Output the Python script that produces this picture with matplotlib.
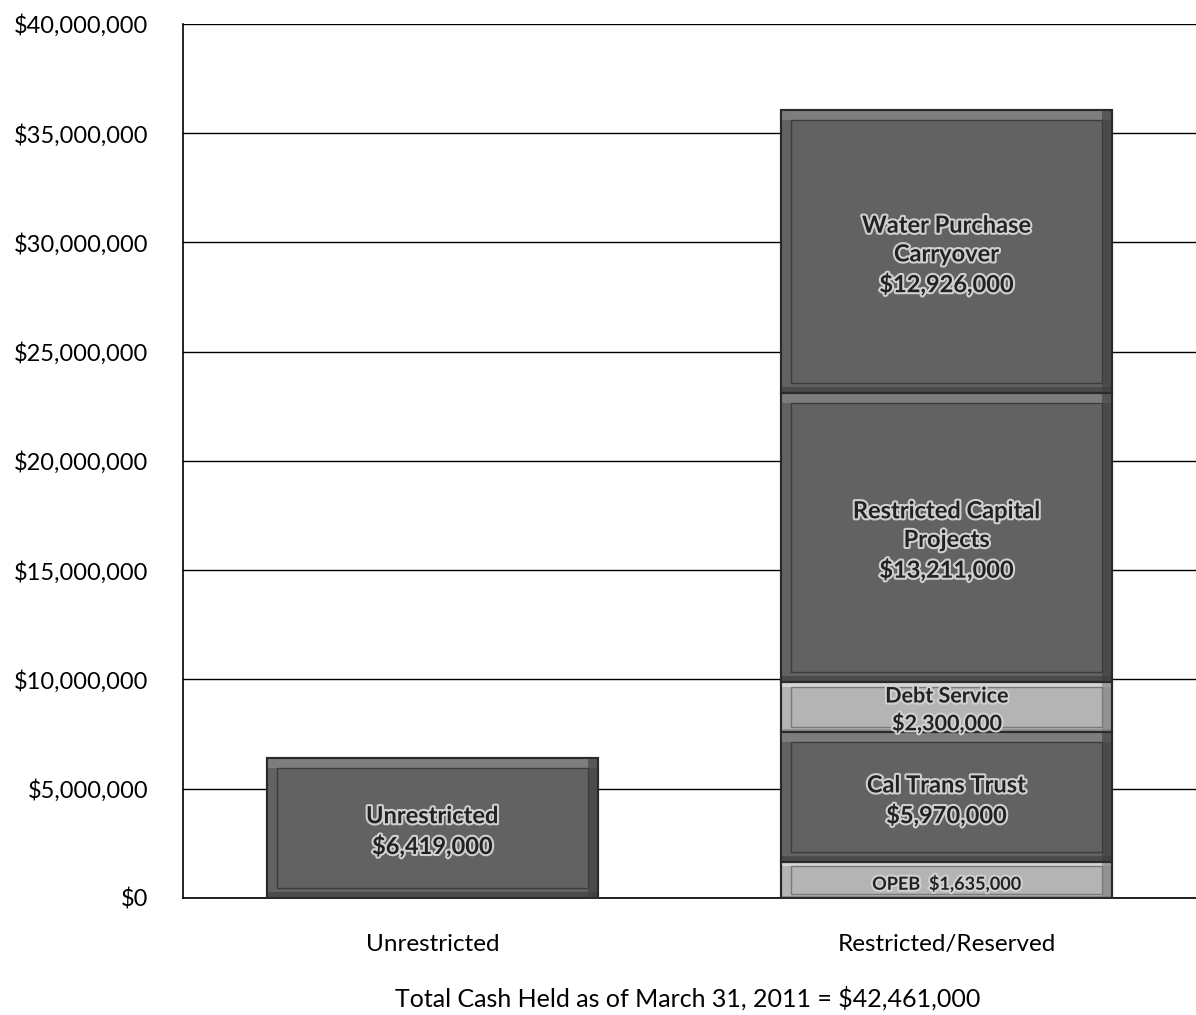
import matplotlib
matplotlib.use("Agg")
import matplotlib.pyplot as plt
import matplotlib.patheffects as pe
from matplotlib.patches import Rectangle
from matplotlib.ticker import FuncFormatter

plt.rcParams['font.family'] = ['Lato', 'DejaVu Sans']

categories = ["Unrestricted", "Restricted/Reserved"]

# Stack segments: (category index, label, value, tone)
seg_category = [0, 1, 1, 1, 1, 1]
seg_labels = ["Unrestricted\n$6,419,000",
              "OPEB  $1,635,000",
              "Cal Trans Trust\n$5,970,000",
              "Debt Service\n$2,300,000",
              "Restricted Capital\nProjects\n$13,211,000",
              "Water Purchase\nCarryover\n$12,926,000"]
seg_values = [6419000, 1635000, 5970000, 2300000, 13211000, 12926000]
seg_tone = ["dark", "light", "dark", "light", "dark", "dark"]
seg_fontsize = [17, 13, 17, 15.5, 17, 17]

yticks = [0, 5e6, 10e6, 15e6, 20e6, 25e6, 30e6, 35e6, 40e6]
title_text = "Total Cash Held as of March 31, 2011 = $42,461,000"

colors = {"dark": "#626262", "light": "#b4b4b4"}
hi = {"dark": "#858585", "light": "#dedede"}
lo = {"dark": "#3c3c3c", "light": "#7a7a7a"}

fig = plt.figure(figsize=(11.96, 10.15), dpi=100)
ax = fig.add_axes([0.153, 0.1153, 0.847, 0.8611])

ax.set_ylim(0, 40e6)
ax.set_xlim(-0.485, 1.485)
ax.set_yticks(yticks)
ax.yaxis.set_major_formatter(FuncFormatter(lambda v, p: "${:,.0f}".format(v)))
ax.grid(axis='y', color='black', linewidth=1.0)
ax.set_axisbelow(True)
for s in ['top', 'right']:
    ax.spines[s].set_visible(False)
ax.spines['left'].set_linewidth(1.2)
ax.spines['bottom'].set_linewidth(1.2)
ax.tick_params(axis='y', length=0, pad=25, labelsize=17)
ax.tick_params(axis='x', length=0, pad=26, labelsize=17.5)
ax.set_xticks([0, 1])
ax.set_xticklabels(categories)

width = 0.644
bottoms = [0.0, 0.0]
for cat, lab, val, tone, fs in zip(seg_category, seg_labels, seg_values,
                                   seg_tone, seg_fontsize):
    b = bottoms[cat]
    bars = ax.bar(cat, val, width=width, bottom=b, color=colors[tone],
                  edgecolor='#2a2a2a', linewidth=1.5, zorder=3)
    p = bars[0]
    x0, y0 = p.get_x(), p.get_y()
    w, h = p.get_width(), p.get_height()
    # bevel: highlight top, shade right/bottom, inner frame
    bx = w * 0.03
    by = min(h * 0.1, 0.45e6)
    ax.add_patch(Rectangle((x0, y0 + h - by), w, by, facecolor=hi[tone],
                           edgecolor='none', zorder=3.5, alpha=0.8))
    ax.add_patch(Rectangle((x0 + w - bx, y0), bx, h, facecolor=lo[tone],
                           edgecolor='none', zorder=3.5, alpha=0.6))
    ax.add_patch(Rectangle((x0, y0), w, by * 0.6, facecolor=lo[tone],
                           edgecolor='none', zorder=3.5, alpha=0.6))
    ax.add_patch(Rectangle((x0 + bx, y0 + by), w - 2 * bx, h - 2 * by,
                           facecolor='none', edgecolor=lo[tone], linewidth=1.0,
                           zorder=3.6))
    ax.add_patch(Rectangle((x0, y0), w, h, facecolor='none',
                           edgecolor='#2a2a2a', linewidth=1.5, zorder=3.7))
    ax.text(cat, b + val / 2 - 0.15e6, lab, ha='center', va='center',
            fontsize=fs, fontweight='bold', color='#222222', zorder=5,
            linespacing=1.3,
            path_effects=[pe.withStroke(linewidth=3, foreground='#d0d0d0')])
    bottoms[cat] = b + val

fig.text(0.575, 0.0167, title_text, ha='center', va='center', fontsize=18)

fig.savefig("out.png", dpi=100)
